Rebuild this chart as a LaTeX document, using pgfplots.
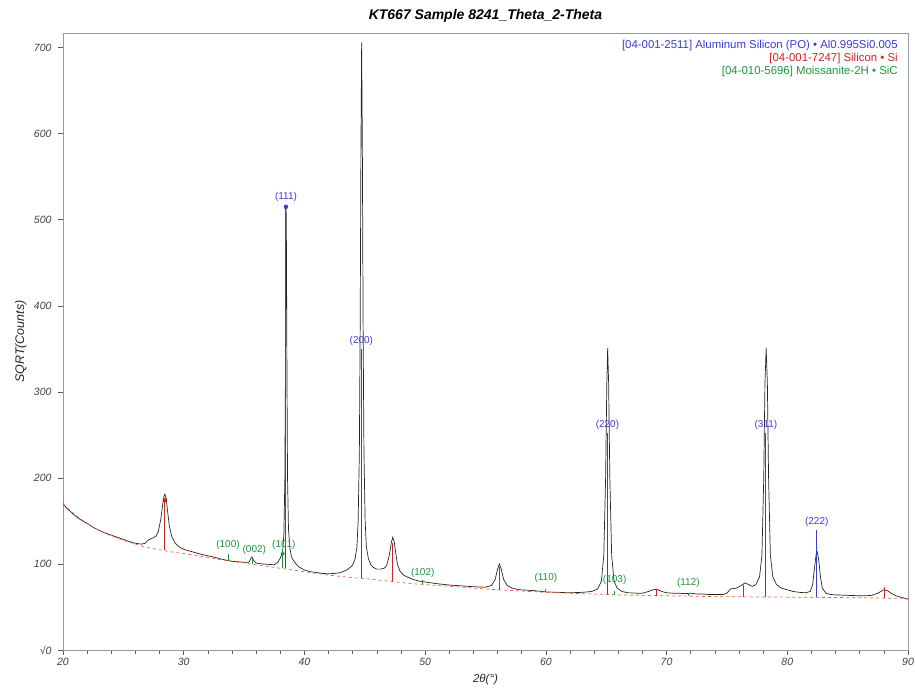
\documentclass[border=0pt]{standalone}
\usepackage{fontspec}
\setmainfont{Liberation Sans}
\usepackage{pgfplots}
\pgfplotsset{compat=1.18}
\definecolor{alblue}{RGB}{60,60,210}
\definecolor{sired}{RGB}{205,35,35}
\definecolor{sicgreen}{RGB}{30,150,60}
\definecolor{bgline}{RGB}{232,100,60}
\begin{document}
\begin{tikzpicture}
\useasboundingbox (-63pt,-40pt) rectangle (852pt,650pt);
\begin{axis}[
 at={(0pt,0pt)}, anchor=south west,
 scale only axis, width=845pt, height=617pt,
 xmin=20, xmax=90, ymin=0, ymax=717,
 xtick={20,30,...,90}, xticklabels={20,30,40,50,60,70,80,90},
 minor x tick num=4,
 ytick={0,100,...,700}, yticklabels={√0,100,200,300,400,500,600,700},
 tick align=outside, tick pos=left,
 major tick length=5pt, minor tick length=4pt,
 axis line style={gray!80},
 every tick/.style={gray!70!black, line width=0.5pt},
 ticklabel style={font=\fontsize{10.5}{12}\selectfont\itshape, text=black!75},
 yticklabel style={xshift=-3pt},
 xlabel={2θ(°)}, ylabel={SQRT(Counts)},
 xlabel style={font=\fontsize{11.5}{13}\selectfont\itshape, text=black!85, at={(axis description cs:0.5,0)}, anchor=center, yshift=-30pt},
 ylabel style={font=\fontsize{12.5}{14}\selectfont\itshape, text=black!85, at={(axis description cs:0,0.5)}, anchor=center, yshift=42pt, xshift=0pt},
 title={KT667 Sample 8241\_Theta\_2-Theta},
 title style={font=\fontsize{14}{16}\selectfont\bfseries\itshape, at={(axis description cs:0.5,1)}, anchor=center, yshift=11pt},
 clip=false,
]
% measured pattern
\addplot[black!85, line width=0.7pt] coordinates {
(20,170) (20.3,165) (20.6,161) (21,156) (21.5,151) (22,147) (22.5,142.5) (23,139) (23.5,136) (24,133.5) (24.5,131) (25,128.5) (25.5,126) (26,124) (26.5,123) (26.8,124) (27.1,128) (27.4,130) (27.7,132) (27.9,138) (28.1,152) (28.25,168) (28.35,178) (28.44,181) (28.55,176) (28.65,163) (28.8,145) (29.0,132) (29.3,124) (29.7,119) (30,117) (30.5,115) (31,113) (31.5,111) (32,109.5) (32.5,108) (33,106) (33.5,104.5) (34,103) (34.5,102.5) (35,102) (35.4,102) (35.55,106) (35.65,108) (35.8,104) (36,101) (36.5,100) (37,99.5) (37.5,99) (37.8,102) (38.0,107) (38.1,110) (38.2,115) (38.3,135) (38.38,200) (38.43,330) (38.46,470) (38.48,517) (38.51,470) (38.55,330) (38.6,200) (38.68,140) (38.8,118) (38.9,110) (39.0,106) (39.3,100) (39.6,96) (40.0,93) (40.5,91) (41.0,90) (41.5,89) (42.0,88.5) (42.5,89) (43.0,90) (43.5,93) (43.8,96) (44.0,99) (44.2,106) (44.35,120) (44.45,150) (44.55,230) (44.62,380) (44.68,580) (44.74,706) (44.80,580) (44.86,380) (44.93,230) (45.03,150) (45.13,120) (45.3,106) (45.5,99) (45.7,96) (46.0,94) (46.3,94) (46.6,95) (46.8,98) (47.0,108) (47.1,116) (47.2,125) (47.32,131) (47.45,125) (47.55,114) (47.7,100) (47.9,92) (48.2,87) (48.5,85) (49.0,82) (49.5,80) (50.0,79) (50.5,78) (51.0,77) (52.0,75.5) (53.0,74.5) (54.0,73.5) (55.0,73) (55.5,75) (55.8,82) (56.0,94) (56.15,100) (56.3,94) (56.5,82) (56.8,75) (57.2,72) (57.8,70) (58.5,69.5) (59.0,69) (60.0,67.5) (61.0,67) (62.0,66.5) (63.0,67) (63.8,68) (64.3,71) (64.6,80) (64.8,110) (64.95,200) (65.05,310) (65.12,351) (65.2,310) (65.3,200) (65.45,110) (65.65,80) (65.9,72) (66.3,68) (66.8,66.5) (67.5,66) (68.0,66) (68.5,68) (68.9,70) (69.2,70.5) (69.6,68) (70.0,66.5) (70.5,66) (71.0,66) (71.5,65.5) (72.0,66) (72.5,65) (73.0,65) (73.5,64.5) (74.0,64.5) (74.7,64.5) (75.0,66) (75.3,71) (75.8,72) (76.2,75) (76.5,78) (76.8,76) (77.1,74) (77.4,76) (77.7,85) (77.9,110) (78.05,200) (78.15,310) (78.25,351) (78.35,310) (78.45,200) (78.6,110) (78.8,85) (79.1,76) (79.5,72) (80.0,70) (80.5,68) (81.0,67) (81.5,66.5) (81.9,68) (82.1,76) (82.25,95) (82.4,112) (82.48,114) (82.6,105) (82.75,85) (82.9,72) (83.2,66) (83.6,64.5) (84.0,64) (85.0,63.5) (86.0,63) (86.5,63) (87.0,63.5) (87.5,66) (88.0,70) (88.3,69) (88.6,66) (89.0,63) (89.5,61) (90.0,59)
};
% background
\addplot[bgline, dashed, line width=0.7pt] coordinates {
(20,170) (21,157) (22,147) (23,139) (24,132.5) (25,127.5) (26,123) (27,119) (28,116.5) (29,114) (30,112) (31,110) (32,107.5) (33,105) (34,103) (35,101) (36,99) (37,97) (38,95) (39,93) (40,91) (41,89) (42,87) (43,85.5) (44,84) (45,83) (46,81.5) (47,80) (48,78.5) (49,77) (50,76) (52,74) (54,72) (56,70) (58,68.5) (60,67) (62,66) (64,65) (66,64) (68,63.5) (70,63) (72,62.5) (74,62) (76,61.8) (78,61.6) (80,61.4) (82,61.2) (84,61) (86,60.7) (88,60.3) (90,60)
};
% Si sticks
\addplot[sired, line width=0.9pt] coordinates {(28.44,116.5) (28.44,174)};
\addplot[sired, line width=0.9pt] coordinates {(47.30,80) (47.30,124)};
\addplot[sired, line width=0.9pt] coordinates {(56.12,70) (56.12,97)};
\addplot[sired, line width=0.9pt] coordinates {(69.13,63.2) (69.13,71)};
\addplot[sired, line width=0.9pt] coordinates {(76.38,61.7) (76.38,75)};
\addplot[sired, line width=0.9pt] coordinates {(88.03,60.3) (88.03,73)};
\addplot[sired, only marks, mark=*, mark size=2pt] coordinates {(28.44,174)};
% SiC sticks
\addplot[sicgreen, line width=0.9pt] coordinates {(33.67,103.5) (33.67,111)};
\addplot[sicgreen, line width=0.9pt] coordinates {(35.66,100) (35.66,106)};
\addplot[sicgreen, line width=0.9pt] coordinates {(38.20,95) (38.20,112)};
\addplot[sicgreen, line width=0.9pt] coordinates {(49.80,76.2) (49.80,81)};
\addplot[sicgreen, line width=0.9pt] coordinates {(60.00,67) (60.00,71)};
\addplot[sicgreen, line width=0.9pt] coordinates {(65.70,64.4) (65.70,69)};
\addplot[sicgreen, line width=0.9pt] coordinates {(71.80,62.6) (71.80,66)};
\addplot[sicgreen, only marks, mark=*, mark size=1.8pt] coordinates {(38.20,112)};
% Al sticks
\addplot[alblue, line width=1pt] coordinates {(38.47,95) (38.47,515)};
\addplot[alblue, line width=1pt] coordinates {(44.72,83.5) (44.72,350)};
\addplot[alblue, line width=1pt] coordinates {(65.10,64.5) (65.10,252)};
\addplot[alblue, line width=1pt] coordinates {(78.23,61.6) (78.23,252)};
\addplot[alblue, line width=1pt] coordinates {(82.44,61.2) (82.44,140)};
\addplot[alblue, only marks, mark=*, mark size=2pt] coordinates {(38.47,515)};
% peak labels
\begin{scope}[every node/.style={font=\fontsize{10}{11}\selectfont}]
\node[text=alblue] at (axis cs:38.47,527) {(111)};
\node[text=alblue] at (axis cs:44.72,359) {(200)};
\node[text=alblue] at (axis cs:65.10,261) {(220)};
\node[text=alblue] at (axis cs:78.23,261) {(311)};
\node[text=alblue] at (axis cs:82.44,149) {(222)};
\node[text=sicgreen] at (axis cs:33.67,122) {(100)};
\node[text=sicgreen] at (axis cs:35.85,116) {(002)};
\node[text=sicgreen] at (axis cs:38.30,122) {(101)};
\node[text=sicgreen] at (axis cs:49.80,90) {(102)};
\node[text=sicgreen] at (axis cs:60.00,84) {(110)};
\node[text=sicgreen] at (axis cs:65.70,81) {(103)};
\node[text=sicgreen] at (axis cs:71.80,78) {(112)};
\end{scope}
% legend
\begin{scope}[every node/.style={font=\fontsize{11.4}{12}\selectfont, anchor=east, inner sep=0pt}]
\node[text=alblue] at (rel axis cs:0.988,0.979) {[04-001-2511] Aluminum Silicon (PO) • Al0.995Si0.005};
\node[text=sired] at (rel axis cs:0.988,0.958) {[04-001-7247] Silicon • Si};
\node[text=sicgreen] at (rel axis cs:0.988,0.937) {[04-010-5696] Moissanite-2H • SiC};
\end{scope}
\end{axis}
\end{tikzpicture}
\end{document}
